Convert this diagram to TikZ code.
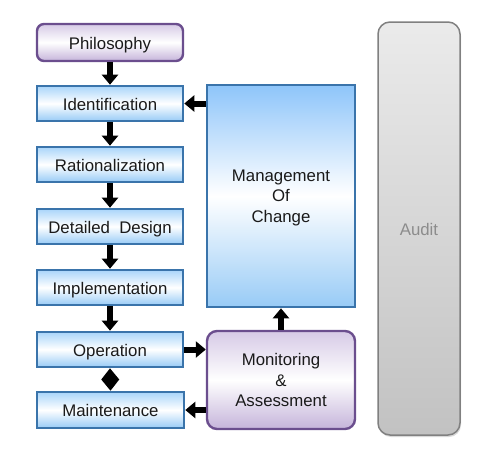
\documentclass[tikz,border=0pt]{standalone}
\usepackage{fontspec}
\setmainfont{Liberation Sans}
\usetikzlibrary{arrows.meta,shadows,calc}
\definecolor{bluebd}{HTML}{3A74AB}
\definecolor{bluetop}{HTML}{A9D5FA}
\definecolor{bluebot}{HTML}{98CBF6}
\definecolor{moctop}{HTML}{8EC5FA}
\definecolor{purplebd}{HTML}{6B4E8E}
\definecolor{purpletop}{HTML}{D6CAE6}
\definecolor{purplebot}{HTML}{C5B4DA}
\definecolor{txt}{HTML}{1A1A1A}
\tikzset{
  base/.style={font=\fontsize{16.8}{20.5}\selectfont, text=txt, align=center, inner sep=0pt},
  one/.style={text height=13pt, text depth=0pt},
  bluebox/.style={base, draw=bluebd, line width=2.6pt, minimum width=146pt, minimum height=35pt,
    top color=bluetop, bottom color=bluebot, middle color=white},
  purplebox/.style={base, draw=purplebd, line width=2.4pt, rounded corners=7pt,
    top color=purpletop, bottom color=purplebot, middle color=white},
  auditbox/.style={base, draw=black!50, line width=1.5pt, rounded corners=12pt,
    top color=black!8, bottom color=black!24, text=black!45,
    drop shadow={opacity=0.3, shadow xshift=1pt, shadow yshift=-2pt}},
  arr/.style={line width=6pt, -{Triangle[width=16pt,length=10pt]}},
}
\begin{document}
\begin{tikzpicture}[x=1pt,y=-1pt]
\useasboundingbox (0,0) rectangle (480,453);
\node[purplebox, one, minimum width=146pt, minimum height=37pt] (ph) at (110,42.5) {Philosophy};
\node[bluebox, one] (id) at (110,103.5) {Identification};
\node[bluebox, one] (ra) at (110,164.5) {Rationalization};
\node[bluebox, one] (dd) at (110,226.5) {Detailed\ \ Design};
\node[bluebox, one] (im) at (110,287.5) {Implementation};
\node[bluebox, one] (op) at (110,349.5) {Operation};
\node[bluebox, one, minimum width=147pt, minimum height=36pt] (mt) at (110.5,410) {Maintenance};
\node[bluebox, text depth=0pt, minimum width=148pt, minimum height=222pt, top color=moctop, bottom color=bluebot, middle color=white] (moc) at (281,196) {Management\\Of\\Change};
\node[purplebox, rounded corners=10pt, minimum width=148pt, minimum height=98pt] (ma) at (281,380) {Monitoring\\\&\\Assessment};
\node[auditbox, one, minimum width=82pt, minimum height=413pt] (au) at (419,228.5) {Audit};

\draw[arr] (ph) -- (id);
\draw[arr] (id) -- (ra);
\draw[arr] (ra) -- (dd);
\draw[arr] (dd) -- (im);
\draw[arr] (im) -- (op);
\draw[arr] (moc.west |- id.east) -- (id.east);
\draw[arr] (op.east) -- (op.east -| ma.west);
\draw[arr] (ma.west |- mt.east) -- (mt.east);
\draw[arr] (ma.north) -- (moc.south);
\fill[black] (op.south) -- ($(op.south)!0.5!(mt.north)+(9,0)$) -- (mt.north) -- ($(op.south)!0.5!(mt.north)+(-9,0)$) -- cycle;
\end{tikzpicture}
\end{document}
